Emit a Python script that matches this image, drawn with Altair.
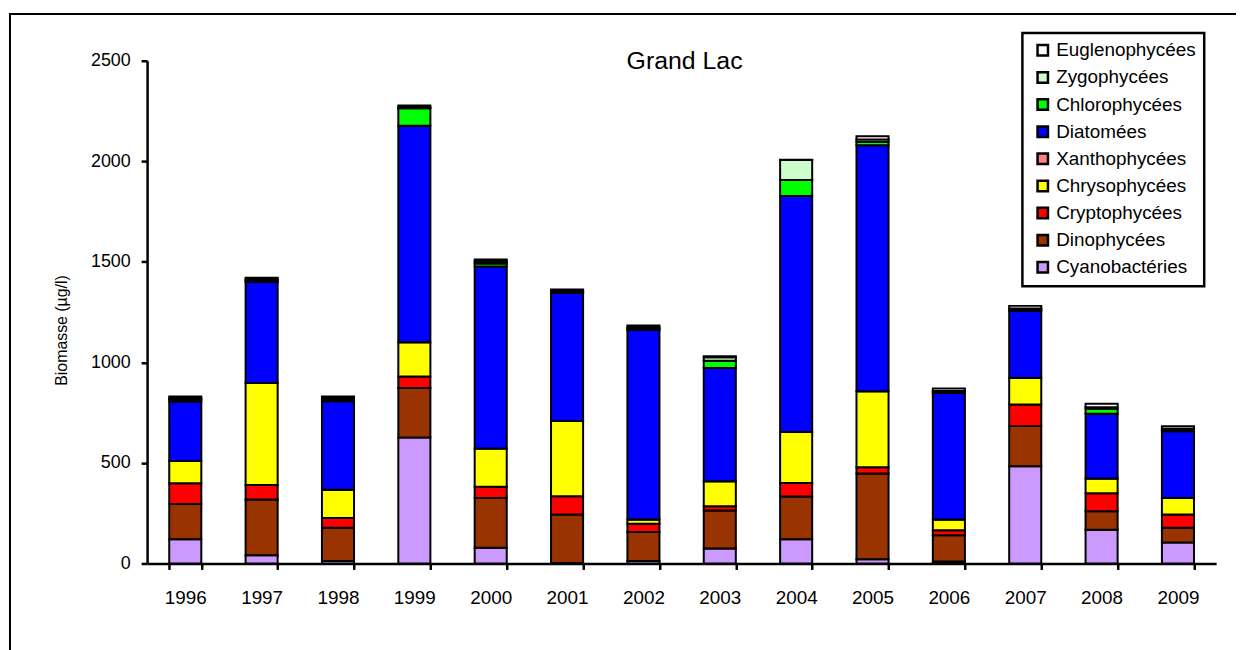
import altair as alt
import pandas as pd

years = ["1996", "1997", "1998", "1999", "2000", "2001", "2002",
         "2003", "2004", "2005", "2006", "2007", "2008", "2009"]

groups = ["Cyanobactéries", "Dinophycées", "Cryptophycées", "Chrysophycées",
          "Xanthophycées", "Diatomées", "Chlorophycées", "Zygophycées",
          "Euglenophycées"]

colors = ["#CC99FF", "#993300", "#FF0000", "#FFFF00", "#FF8080",
          "#0000FF", "#00FF00", "#CCFFCC", "#FFFFFF"]

cyano = [120, 41, 12, 626, 78, 3, 12, 74, 120, 21, 10, 483, 168, 104]
dino = [176, 277, 166, 247, 247, 241, 145, 189, 213, 427, 130, 200, 92, 74]
crypto = [103, 72, 48, 57, 57, 90, 41, 22, 67, 30, 25, 107, 89, 66]
chryso = [111, 507, 141, 170, 190, 374, 21, 124, 254, 378, 54, 132, 74, 82]
xantho = [0, 0, 0, 0, 0, 0, 0, 0, 0, 0, 0, 0, 0, 0]
diatom = [295, 503, 440, 1077, 905, 637, 942, 563, 1174, 1224, 629, 333, 321, 332]
chloro = [10, 8, 10, 87, 15, 8, 8, 36, 79, 16, 5, 8, 25, 8]
zygo = [5, 4, 5, 3, 10, 3, 5, 18, 99, 12, 5, 5, 8, 5]
eugl = [10, 9, 8, 10, 10, 7, 10, 4, 2, 16, 12, 13, 17, 12]

series = [cyano, dino, crypto, chryso, xantho, diatom, chloro, zygo, eugl]

title_text = ["Grand Lac"]

rows = []
for gi, (g, vals) in enumerate(zip(groups, series)):
    for y, v in zip(years, vals):
        rows.append({"Année": y, "Groupe": g, "Biomasse": v, "ordre": gi})
df = pd.DataFrame(rows)

FONT = "Liberation Sans"

bars = alt.Chart(df).mark_bar(stroke="black", strokeWidth=2).encode(
    x=alt.X("Année:N", sort=years,
            scale=alt.Scale(paddingInner=0.58, paddingOuter=0.29),
            axis=alt.Axis(title=None, labelAngle=0, labelFontSize=19,
                          labelFont=FONT, labelColor="black",
                          tickBand="extent", tickSize=6, tickWidth=2.5,
                          tickColor="black", domainColor="black",
                          domainWidth=2.5, labelPadding=19)),
    y=alt.Y("Biomasse:Q", stack="zero",
            scale=alt.Scale(domain=[0, 2500], nice=False),
            axis=alt.Axis(title="Biomasse (µg/l)", values=[0, 500, 1000, 1500, 2000, 2500],
                          format="d",
                          grid=False, labelFontSize=18, labelFont=FONT,
                          labelColor="black", tickSize=6, tickWidth=2.5,
                          tickColor="black", domainColor="black",
                          domainWidth=2.5, labelPadding=11,
                          titleFont=FONT, titleFontSize=16,
                          titleFontWeight="normal", titleColor="black",
                          titleX=-78, titleY=271, titleAngle=-90)),
    color=alt.Color("Groupe:N", sort=groups,
                    scale=alt.Scale(domain=groups, range=colors),
                    legend=alt.Legend(title=None, orient="none",
                                      legendX=881, legendY=-28,
                                      values=groups[::-1],
                                      symbolType="square", symbolSize=110,
                                      symbolStrokeColor="black",
                                      symbolStrokeWidth=2.5,
                                      symbolOffset=3,
                                      labelFont=FONT, labelFontSize=19,
                                      labelColor="black", labelOffset=4,
                                      rowPadding=6.3,
                                      padding=8,
                                      strokeColor="black",
                                      fillColor="white")),
    order=alt.Order("ordre:Q", sort="ascending"),
)

title = alt.Chart(pd.DataFrame({"t": title_text})).mark_text(
    font=FONT, fontSize=25, color="black", baseline="alphabetic", align="center"
).encode(text="t:N", x=alt.value(541), y=alt.value(8))

frame = alt.Chart(pd.DataFrame({"a": [0]})).mark_rect(
    fill=None, stroke="black", strokeWidth=2, clip=False
).encode(
    x=alt.value(-138), x2=alt.value(1110),
    y=alt.value(-47), y2=alt.value(610),
)

chart = alt.layer(frame, bars, title).properties(
    width=1076, height=506,
    padding={"left": 140, "top": 51, "right": 20, "bottom": 85},
    autosize=alt.AutoSizeParams(type="none"),
).configure_view(stroke=None).configure_legend(
    strokeWidth=2.5
)

chart.save("out.html", embed_options={"renderer": "svg", "actions": False})
